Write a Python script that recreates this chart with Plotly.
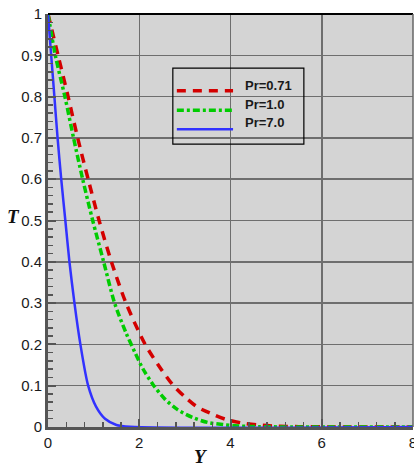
import plotly.graph_objects as go

# ---- data ----
y_pr071 = [0, 0.22, 0.44, 0.65, 0.88, 1.12, 1.39, 1.71, 2.13, 2.48, 2.72, 2.99, 3.28,
           3.61, 3.91, 4.26, 4.59, 4.95, 5.5, 6.2, 8]
t_pr071 = [1, 0.9, 0.8, 0.7, 0.6, 0.5, 0.4, 0.3, 0.2, 0.14, 0.104, 0.074, 0.048,
           0.031, 0.018, 0.0097, 0.005, 0.0025, 0.0008, 0.0002, 0]

y_pr10 = [0, 0.16, 0.37, 0.56, 0.76, 0.98, 1.22, 1.46, 1.71, 1.90, 2.08, 2.30, 2.55,
          2.84, 3.17, 3.50, 3.83, 4.1, 4.6, 8]
t_pr10 = [1, 0.9, 0.8, 0.7, 0.6, 0.5, 0.4, 0.3, 0.228, 0.182, 0.141, 0.103, 0.069,
          0.042, 0.023, 0.011, 0.006, 0.003, 0.0008, 0]

y_pr70 = [0, 0.07, 0.14, 0.21, 0.29, 0.38, 0.47, 0.58, 0.71, 0.88, 1.05, 1.25, 1.5, 1.8, 8]
t_pr70 = [1, 0.9, 0.8, 0.7, 0.6, 0.5, 0.4, 0.3, 0.2, 0.1, 0.05, 0.02, 0.005, 0.0005, 0]

series_names = ["Pr=0.71", "Pr=1.0", "Pr=7.0"]

x_tickvals = [0, 2, 4, 6, 8]
x_ticktext = ["0", "2", "4", "6", "8"]
y_tickvals = [0, 0.1, 0.2, 0.3, 0.4, 0.5, 0.6, 0.7, 0.8, 0.9, 1]
y_ticktext = ["0", "0.1", "0.2", "0.3", "0.4", "0.5", "0.6", "0.7", "0.8", "0.9", "1"]

# ---- styles ----
RED = "#d40000"
GREEN = "#00cc00"
BLUE = "#3232ff"
red_dash = "9px,7px"
green_dash = "7px,3px,3px,3px"

fig = go.Figure()
fig.add_trace(go.Scatter(x=y_pr071, y=t_pr071, mode="lines", name=series_names[0],
                         line=dict(color=RED, width=3.5, dash=red_dash, shape="spline", smoothing=0.8)))
fig.add_trace(go.Scatter(x=y_pr10, y=t_pr10, mode="lines", name=series_names[1],
                         line=dict(color=GREEN, width=3.5, dash=green_dash, shape="spline", smoothing=0.8)))
fig.add_trace(go.Scatter(x=y_pr70, y=t_pr70, mode="lines", name=series_names[2],
                         line=dict(color=BLUE, width=2.5, shape="spline", smoothing=0.8)))

tick_font = dict(family="Liberation Sans Narrow, Liberation Sans, Arial", size=15, color="#1a1a1a")

fig.update_layout(
    width=414, height=467,
    margin=dict(l=48, r=1, t=14, b=40, autoexpand=False),
    paper_bgcolor="white",
    plot_bgcolor="#d4d4d4",
    showlegend=False,
    xaxis=dict(range=[0, 8], tickvals=x_tickvals, ticktext=x_ticktext, automargin=False,
               ticklabeloverflow="allow",
               showgrid=True, gridcolor="#6e6e6e", gridwidth=1.5,
               zeroline=False, showline=True, linecolor="#555555", linewidth=3,
               ticks="inside", ticklen=8, tickwidth=2, tickcolor="#555555",
               minor=dict(dtick=0.4, ticks="inside", ticklen=5, tickwidth=1.5,
                          tickcolor="#555555", showgrid=False),
               tickfont=tick_font, fixedrange=True),
    yaxis=dict(range=[0, 1], tickvals=y_tickvals, ticktext=y_ticktext, automargin=False,
               ticklabeloverflow="allow",
               showgrid=True, gridcolor="#6e6e6e", gridwidth=1.5,
               zeroline=False, showline=True, linecolor="#555555", linewidth=3,
               ticks="inside", ticklen=8, tickwidth=2, tickcolor="#555555",
               minor=dict(dtick=0.02, ticks="inside", ticklen=5, tickwidth=1.5,
                          tickcolor="#555555", showgrid=False),
               tickfont=tick_font, fixedrange=True),
)

# top and right frame
fig.add_shape(type="line", xref="paper", yref="paper", x0=0, x1=1, y0=1, y1=1,
              line=dict(color="black", width=2))
fig.add_shape(type="line", xref="paper", yref="paper", x0=1, x1=1, y0=0, y1=1,
              line=dict(color="#666666", width=1.5))

# custom legend box
fig.add_shape(type="rect", xref="paper", yref="paper", x0=0.342, x1=0.701, y0=0.685, y1=0.869,
              line=dict(color="black", width=1.2), fillcolor="rgba(0,0,0,0)")
leg_line_y = [0.814, 0.767, 0.721]
leg_text_y = [0.828, 0.782, 0.738]
leg_styles = [dict(color=RED, width=3.5, dash=red_dash),
              dict(color=GREEN, width=3.5, dash=green_dash),
              dict(color=BLUE, width=2.5)]
for name, ly, ty, st in zip(series_names, leg_line_y, leg_text_y, leg_styles):
    fig.add_shape(type="line", xref="paper", yref="paper", x0=0.353, x1=0.507, y0=ly, y1=ly, line=st)
    fig.add_annotation(xref="paper", yref="paper", x=0.534, y=ty, xanchor="left", yanchor="middle",
                       text="<b>" + name + "</b>", showarrow=False,
                       font=dict(family="Liberation Sans, Arial", size=13, color="#1a1a1a"))

# axis titles
fig.add_annotation(xref="paper", yref="paper", x=-35 / 365, y=0.51, xanchor="center", yanchor="middle",
                   text="<b><i>T</i></b>", showarrow=False,
                   font=dict(family="Liberation Serif, DejaVu Serif", size=19, color="#111111"))
fig.add_annotation(xref="paper", yref="paper", x=(201 - 48) / 365, y=-29 / 413, xanchor="center", yanchor="middle",
                   text="<b><i>Y</i></b>", showarrow=False,
                   font=dict(family="Liberation Serif, DejaVu Serif", size=19, color="#111111"))

fig.write_html("out.html", config={"displayModeBar": False, "staticPlot": True},
               post_script="document.body.style.margin='0';document.body.style.overflow='hidden';")
